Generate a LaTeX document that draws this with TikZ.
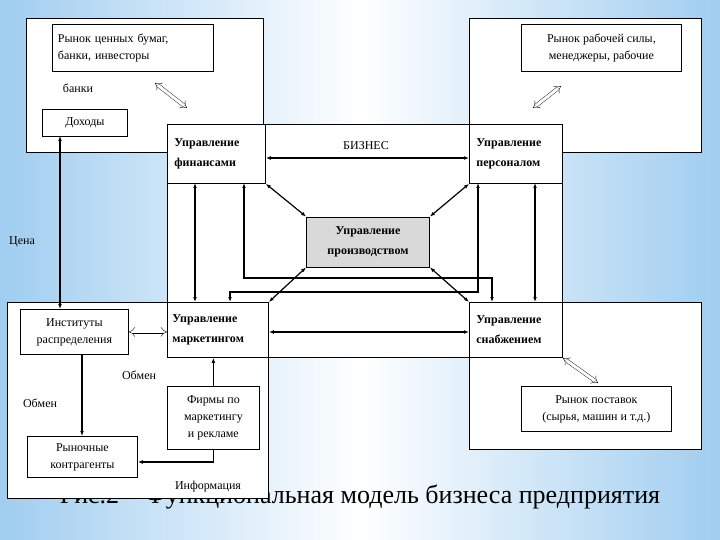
\documentclass[tikz,border=0pt]{standalone}
\usepackage{fontspec}
\setmainfont{Liberation Serif}
\usetikzlibrary{arrows.meta,calc}
\definecolor{bgb}{RGB}{160,205,240}
\begin{document}
\begin{tikzpicture}[x=1pt,y=-1pt,
  box/.style={draw,thick,fill=white,inner sep=0pt,font=\fontsize{12}{17}\selectfont,align=center},
  bbox/.style={draw,thick,fill=white,inner sep=0pt,font=\bfseries\fontsize{12}{20}\selectfont,align=left,anchor=north west},
  lbl/.style={font=\fontsize{12}{14}\selectfont},
  con/.style={very thick,-{Latex[length=5pt]}},
  dcon/.style={very thick,{Latex[length=5pt]}-{Latex[length=5pt]}},
  hol/.style={double,double distance=3pt,{Implies}-{Implies}}]
\useasboundingbox (0,0) rectangle (720,540);
\shade[left color=bgb,right color=bgb,middle color=white] (0,0) rectangle (720,540);
\node[font=\fontsize{26}{28}\selectfont] (cap) at (360,497) {Рис.2 – Функциональная модель бизнеса предприятия};
% big outer boxes
\node[box,minimum width=237,minimum height=134,anchor=north west] (tl) at (26,18) {};
\node[box,minimum width=232,minimum height=134,anchor=north west] (tr) at (469,18) {};
\node[box,minimum width=395,minimum height=233,anchor=north west] (biz) at (167,124) {};
\node[box,minimum width=261,minimum height=196,anchor=north west] (bl) at (7,302) {};
\node[box,minimum width=232,minimum height=147,anchor=north west] (br) at (469,302) {};
% inner boxes
\node[box,minimum width=161,minimum height=47,anchor=north west,align=left,text width=150] (rcb) at (52,24) {Рынок ценных бумаг,\\ банки, инвесторы};
\node[box,minimum width=160,minimum height=47,anchor=north west] (rrs) at (521,24) {Рынок рабочей силы,\\ менеджеры, рабочие};
\node[lbl] (banki) at (78,88) {банки};
\node[box,minimum width=85,minimum height=27,anchor=north west] (doh) at (42,109) {Доходы};
\node[bbox,minimum width=98,minimum height=59,text width=96] (fin) at (167,124) {\hspace*{6pt}Управление\\\hspace*{6pt}финансами};
\node[bbox,minimum width=93,minimum height=59,text width=91] (per) at (469,124) {\hspace*{6pt}Управление\\\hspace*{6pt}персоналом};
\node[lbl] (bn) at (366,146) {БИЗНЕС};
\node[box,fill=gray!30,minimum width=123,minimum height=50,font=\bfseries\fontsize{12}{20}\selectfont] (pro) at (368,242) {Управление\\ производством};
\node[bbox,minimum width=101,minimum height=55,text width=99] (mar) at (167,302) {\hspace*{4pt}Управление\\\hspace*{4pt}маркетингом};
\node[bbox,minimum width=93,minimum height=55,text width=91] (sup) at (469,302) {\hspace*{6pt}Управление\\\hspace*{6pt}снабжением};
\node[lbl] (cena) at (22,242) {Цена};
\node[box,minimum width=108,minimum height=45,anchor=north west] (ins) at (20,309) {Институты\\ распределения};
\node[lbl] (ob1) at (139,375) {Обмен};
\node[lbl] (ob2) at (40,403) {Обмен};
\node[box,minimum width=110,minimum height=41,anchor=north west] (ryn) at (27,436) {Рыночные\\ контрагенты};
\node[box,minimum width=92,minimum height=63,anchor=north west] (fir) at (167,386) {Фирмы по\\ маркетингу\\ и рекламе};
\node[lbl] (inf) at (208,487) {Информация};
\node[box,minimum width=150,minimum height=45,anchor=north west] (rpo) at (521,386) {Рынок поставок\\ (сырья, машин и т.д.)};
% hollow arrows
\draw[hol] (155,83) -- (187,108);
\draw[hol] (533,108) -- (561,86);
\draw[hol] (563,358) -- (598,383);
\draw[hol] (ins.east) -- (mar.west |- ins.east);
% connectors
\draw[dcon] (fin.east |- 0,158) -- (per.west |- 0,158);
\draw[dcon] (fin.south east) -- (pro.north west);
\draw[dcon] (per.south west) -- (pro.north east);
\draw[dcon] (pro.south west) -- (mar.north east);
\draw[dcon] (pro.south east) -- (sup.north west);
\draw[dcon] (195,183) -- (195,302);
\draw[dcon] (535,183) -- (535,302);
\draw[dcon] (mar.east |- 0,332) -- (sup.west |- 0,332);
\draw[dcon] (244,183) |- (492,278) -- (492,302);
\draw[dcon] (478,183) |- (230,292) -- (230,302);
\draw[dcon] (60,136) -- (60,309);
\draw[con] (82,354) -- (82,436);
\draw[con] (fir.north) -- (mar.south -| fir.north);
\draw[con] (fir.south) |- (ryn.east |- 0,462);
\end{tikzpicture}
\end{document}
